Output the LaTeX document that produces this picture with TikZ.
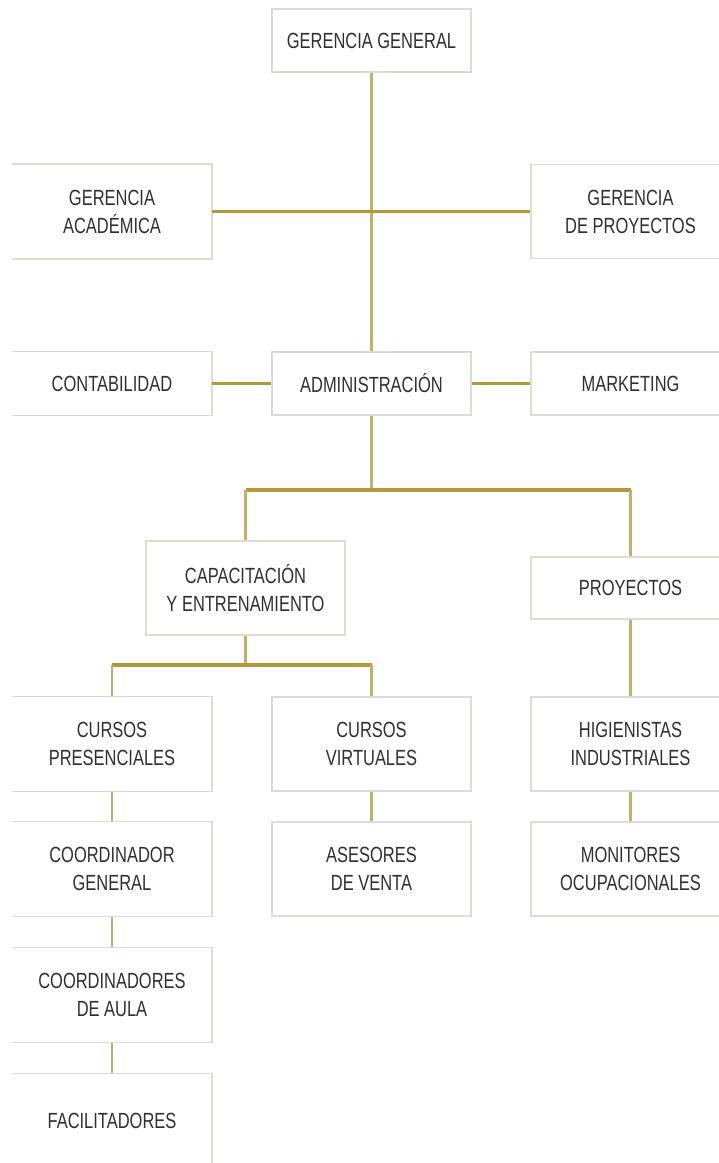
\documentclass[tikz,border=0pt]{standalone}
\usepackage{fontspec}
\setmainfont{Liberation Sans}[FakeStretch=0.75]
\usepackage{tikz}
\usetikzlibrary{positioning, calc}
\definecolor{doradobarra}{RGB}{180, 152, 58}
\definecolor{doradosuave}{RGB}{192, 176, 104}
\definecolor{grisborde}{RGB}{222, 220, 212}
\definecolor{textogris}{RGB}{48, 48, 48}

\begin{document}
\begin{tikzpicture}[x=0.02cm, y=-0.02cm,
    caja/.style={draw=grisborde, line width=0.6pt, fill=white, align=center,
      minimum width=3.98cm, minimum height=1.88cm, inner sep=0pt,
      text=textogris, font=\fontsize{12.5}{16}\selectfont},
    cajabaja/.style={caja, minimum height=1.26cm},
    cajaizq/.style={caja, draw=none, append after command={\pgfextra{
      \draw[draw=grisborde, line width=0.6pt] (\tikzlastnode.north west) -- (\tikzlastnode.north east)
        -- (\tikzlastnode.south east) -- (\tikzlastnode.south west);}}},
    cajaizqbaja/.style={cajaizq, minimum height=1.26cm},
    conector/.style={draw=doradosuave, line width=1.2pt},
    barra/.style={draw=doradobarra, line width=2pt}]
    \useasboundingbox (0,0) rectangle (718,1163);
    % nivel 1
    \node[cajabaja] (gg) at (371.5,40.5) {GERENCIA GENERAL};
    \node[cajaizq] (gacad) at (112,211.5) {GERENCIA\\ACADÉMICA};
    \node[caja] (gproy) at (630.5,211.5) {GERENCIA\\DE PROYECTOS};
    % administracion
    \node[cajaizqbaja] (conta) at (112,383.5) {CONTABILIDAD};
    \node[cajabaja] (adm) at (371.5,383.5) {ADMINISTRACIÓN};
    \node[cajabaja] (mkt) at (630.5,383.5) {MARKETING};
    % areas
    \node[caja] (cap) at (245.5,588) {CAPACITACIÓN\\Y ENTRENAMIENTO};
    \node[caja, minimum height=1.24cm] (proy) at (630.5,588) {PROYECTOS};
    \node[cajaizq] (cpres) at (112,744) {CURSOS\\PRESENCIALES};
    \node[caja] (cvirt) at (371.5,744) {CURSOS\\VIRTUALES};
    \node[caja] (hig) at (630.5,744) {HIGIENISTAS\\INDUSTRIALES};
    \node[cajaizq] (cgen) at (112,869) {COORDINADOR\\GENERAL};
    \node[caja] (ases) at (371.5,869) {ASESORES\\DE VENTA};
    \node[caja] (mon) at (630.5,869) {MONITORES\\OCUPACIONALES};
    \node[cajaizq] (caula) at (112,995) {COORDINADORES\\DE AULA};
    \node[cajaizq] (facil) at (112,1121) {FACILITADORES};
    % barras
    \coordinate (bus1) at (371.5,490);
    \coordinate (bus2) at (245.5,665);
    % conectores
    \draw[conector] (gg) -- (adm);
    \draw[barra] (gacad) -- (gproy);
    \draw[barra, line width=1.6pt] (conta) -- (adm);
    \draw[barra, line width=1.6pt] (adm) -- (mkt);
    \draw[conector] (adm) -- (bus1);
    \draw[barra] (cap.north |- bus1) -- (proy.north |- bus1);
    \draw[conector] (cap.north |- bus1) -- (cap.north);
    \draw[conector] (proy.north |- bus1) -- (proy.north);
    \draw[conector] (cap) -- (bus2);
    \draw[barra] (cpres.north |- bus2) -- (cvirt.north |- bus2);
    \draw[conector] (cpres.north |- bus2) -- (cpres.north);
    \draw[conector] (cvirt.north |- bus2) -- (cvirt.north);
    \draw[conector] (proy) -- (hig);
    \draw[conector] (cpres) -- (cgen);
    \draw[conector] (cgen) -- (caula);
    \draw[conector] (caula) -- (facil);
    \draw[conector] (cvirt) -- (ases);
    \draw[conector] (hig) -- (mon);
\end{tikzpicture}
\end{document}
